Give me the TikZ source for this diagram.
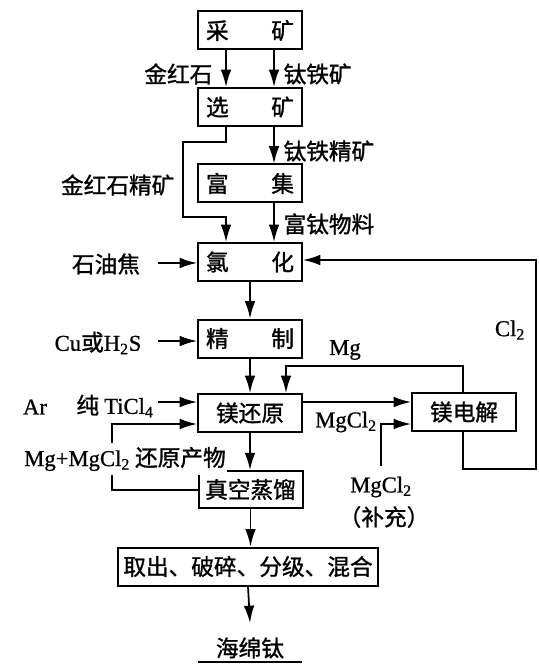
\documentclass[tikz,border=0pt]{standalone}
\usepackage{fontspec}
\setmainfont{Noto Sans CJK SC}[RawFeature={embolden=1.2}]
\newfontfamily\lat{Liberation Serif}[RawFeature={embolden=0.8}]
\usetikzlibrary{arrows.meta}
\begin{document}
\begin{tikzpicture}[x=0.75pt,y=-0.75pt,
  every node/.style={font=\fontsize{17}{20}\selectfont},
  procbox/.style={draw,line width=1.5pt,minimum width=78pt,minimum height=28.5pt,inner sep=2pt},
  lbl/.style={inner sep=1pt},
  conn/.style={line width=1.3pt},
  arr/.style={conn,-{Latex[length=13pt,width=8pt]}}]
\useasboundingbox (0,0) rectangle (538,666);
% boxes
\node[procbox] (cai) at (250,30.5) {\makebox[66pt]{采\hfill 矿}};
\node[procbox] (xuan) at (250,107) {\makebox[66pt]{选\hfill 矿}};
\node[procbox] (fu) at (250,183.5) {\makebox[66pt]{富\hfill 集}};
\node[procbox] (lv) at (250,262) {\makebox[66pt]{氯\hfill 化}};
\node[procbox] (jz) at (250,338.5) {\makebox[66pt]{精\hfill 制}};
\node[procbox] (mh) at (250,413) {镁还原};
\node[procbox] (md) at (464,412) {镁电解};
\node[procbox,minimum height=27.5pt] (zk) at (250.5,489.5) {真空蒸馏};
\node[procbox,minimum width=195pt] (qc) at (248,566.5) {取出、破碎、分级、混合};
\node[lbl] (hmt) at (250,648) {海绵钛};
\draw[line width=1.5pt] (198,662) -- (302,662);
% labels
\node[lbl,anchor=east] (jhs) at (214,74) {金红石};
\node[lbl,anchor=west] (ttk) at (282,74) {钛铁矿};
\node[lbl,anchor=west] (ttjk) at (282,151) {钛铁精矿};
\node[lbl,anchor=east] (jhsjk) at (176,185) {金红石精矿};
\node[lbl,anchor=west] (ftwl) at (282,224) {富钛物料};
\node[lbl] (syj) at (106,264) {石油焦};
\node[lbl] (cuh) at (98,343) {{\lat Cu}或{\lat H\textsubscript{2}S}};
\node[lbl] (cl2) at (510,330) {\lat Cl\textsubscript{2}};
\node[lbl] (mg) at (345,350) {\lat Mg};
\node[lbl] (ar) at (35,407) {\lat Ar};
\node[lbl] (ticl) at (115,406) {纯 {\lat TiCl\textsubscript{4}}};
\node[lbl] (mgcl) at (346,422) {\lat MgCl\textsubscript{2}};
\node[lbl] (mgclb) at (381,487) {\lat MgCl\textsubscript{2}};
\node[lbl] (bc) at (384,517) {（补充）};
\coordinate (supp) at (381,466);
% connectors
\draw[arr] (226,0 |- cai.south) -- (226,0 |- xuan.north);
\draw[arr] (274,0 |- cai.south) -- (274,0 |- xuan.north);
\draw[arr] (226,0 |- xuan.south) -- (226,142) -- (183,142) -- (183,217) -- (226,217) -- (226,0 |- lv.north);
\draw[arr] (274,0 |- xuan.south) -- (274,0 |- fu.north);
\draw[arr] (274,0 |- fu.south) -- (274,0 |- lv.north);
\draw[arr] (158,263) -- (lv.west |- 0,263);
\draw[arr] (463,0 |- md.south) -- (463,469) -- (536,469) -- (536,260) -- (lv.east |- 0,260);
\draw[arr] (lv.south) -- (jz.north);
\draw[arr] (158,341) -- (jz.west |- 0,341);
\draw[arr] (jz.south) -- (mh.north);
\draw[arr] (463,0 |- md.north) -- (463,366) -- (286,366) -- (286,0 |- mh.north);
\draw[arr] (mh.east |- 0,402) -- (md.west |- 0,402);
\draw[arr] (supp) -- (381,424) -- (md.west |- 0,424);
\draw[arr] (158,402) -- (mh.west |- 0,402);
\draw[arr] (zk.west |- 0,490) -- (112,490) -- (112,424) -- (mh.west |- 0,424);
\node[lbl,fill=white,inner ysep=3pt] (hyc) at (125,459) {{\lat Mg+MgCl\textsubscript{2}} 还原产物};
\draw[arr] (mh.south) -- (mh.south |- zk.north);
\draw[arr] (zk.south) -- (zk.south |- qc.north);
\draw[arr] (qc.south) -- (250,623);
\end{tikzpicture}
\end{document}
